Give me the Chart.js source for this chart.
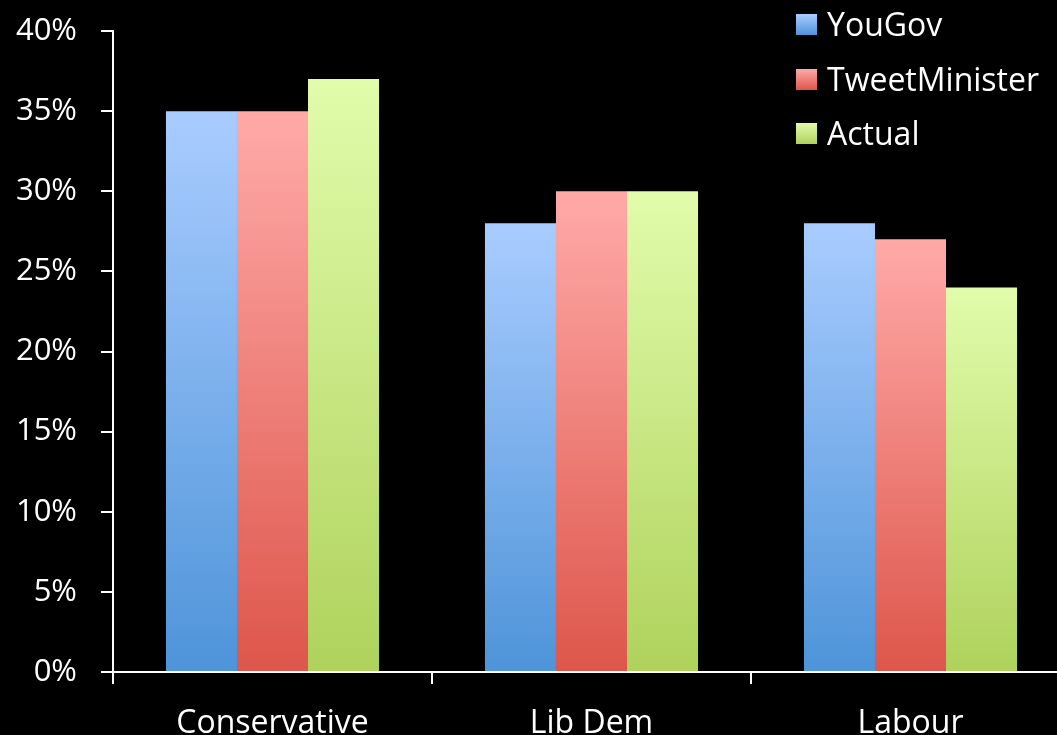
<!DOCTYPE html>
<html><head><meta charset="utf-8">
<script src="https://cdn.jsdelivr.net/npm/chart.js@4/dist/chart.umd.min.js"></script>
<style>
html,body{margin:0;padding:0;background:#000;overflow:hidden;}
#wrap{width:1080px;height:735px;position:relative;}
</style></head>
<body><div id="wrap"><canvas id="c"></canvas></div>
<script>
const categories = ["Conservative", "Lib Dem", "Labour"];
const seriesNames = ["YouGov", "TweetMinister", "Actual"];
const yougov = [35, 28, 28];
const tweetMinister = [35, 30, 27];
const actual = [37, 30, 24];
const yTicks = [0, 5, 10, 15, 20, 25, 30, 35, 40];

const gradStops = [
  ["#a9ccff", "#4e94d9"],
  ["#ffaaa8", "#dd564b"],
  ["#e1fcab", "#afd25c"]
];
const FONT = "'Open Sans', 'DejaVu Sans', sans-serif";

function barGradient(i) {
  return function(ctx) {
    const chart = ctx.chart;
    if (!chart.chartArea || ctx.type !== 'data') return gradStops[i][1];
    const ys = chart.scales.y;
    const top = ys.getPixelForValue(ctx.raw);
    const bottom = ys.getPixelForValue(0);
    const g = chart.ctx.createLinearGradient(0, top, 0, bottom);
    g.addColorStop(0, gradStops[i][0]);
    g.addColorStop(1, gradStops[i][1]);
    return g;
  };
}

const legendPlugin = {
  id: 'customLegend',
  afterDraw(chart) {
    const ctx = chart.ctx;
    ctx.save();
    const rows = [24, 79, 133];
    chart.data.datasets.forEach((ds, i) => {
      const y = rows[i];
      const g = ctx.createLinearGradient(0, y - 10, 0, y + 11);
      g.addColorStop(0, gradStops[i][0]);
      g.addColorStop(1, gradStops[i][1]);
      ctx.fillStyle = g;
      ctx.fillRect(796, y - 10, 21, 21);
      ctx.fillStyle = '#fff';
      ctx.font = "32px " + FONT;
      ctx.textBaseline = 'middle';
      ctx.textAlign = 'left';
      ctx.fillText(ds.label, 827, y + 3);
    });
    ctx.restore();
  }
};

new Chart(document.getElementById('c'), {
  type: 'bar',
  data: {
    labels: categories,
    datasets: [
      { label: seriesNames[0], data: yougov, backgroundColor: barGradient(0) },
      { label: seriesNames[1], data: tweetMinister, backgroundColor: barGradient(1) },
      { label: seriesNames[2], data: actual, backgroundColor: barGradient(2) }
    ]
  },
  options: {
    responsive: true,
    maintainAspectRatio: false,
    animation: false,
    devicePixelRatio: 1,
    categoryPercentage: 0.668,
    barPercentage: 1,
    layout: { padding: { top: 31, right: 10, left: 0, bottom: 0 } },
    plugins: { legend: { display: false }, tooltip: { enabled: false } },
    scales: {
      x: {
        grid: { display: true, drawOnChartArea: false, offset: true, color: '#fff', lineWidth: 2, tickLength: 12 },
        border: { display: true, color: '#fff', width: 2 },
        ticks: { color: '#fff', font: { family: FONT, size: 32 }, padding: 21, maxRotation: 0 },
        afterFit(s) { s.height = 63; s.paddingLeft = 0; s.paddingRight = 0; }
      },
      y: {
        min: 0, max: 40,
        afterBuildTicks(s) { s.ticks = yTicks.map(v => ({ value: v })); },
        grid: { display: true, drawOnChartArea: false, color: '#fff', lineWidth: 2, tickLength: 12 },
        border: { display: true, color: '#fff', width: 2 },
        ticks: { color: '#fff', font: { family: FONT, size: 31 }, padding: 24, callback: v => v + '%' },
        afterFit(s) { s.width = 113; s.paddingTop = 0; s.paddingBottom = 0; }
      }
    }
  },
  plugins: [legendPlugin]
});
</script></body></html>
